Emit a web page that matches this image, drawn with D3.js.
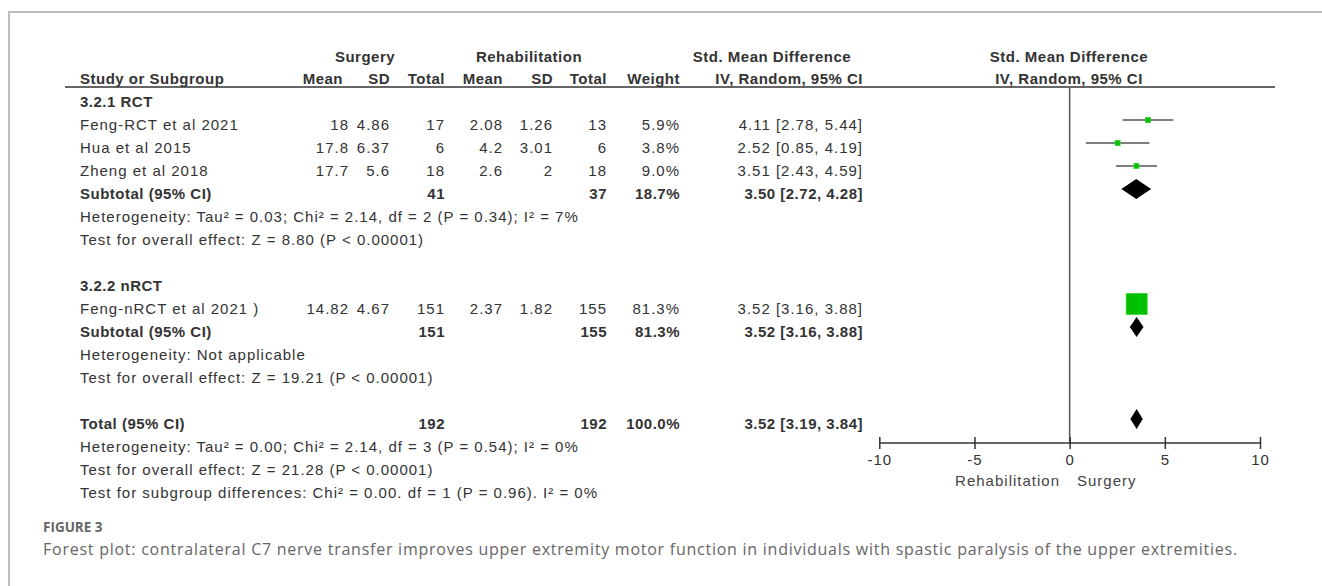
<!DOCTYPE html>
<html>
<head>
<meta charset="utf-8">
<script src="https://cdn.jsdelivr.net/npm/d3@7"></script>
<style>
  html, body { margin: 0; padding: 0; background: #fff; }
</style>
</head>
<body>
<svg id="chart" width="1322" height="586"></svg>
<script>
// ---- Study-level data ----
const studyNames  = ["Feng-RCT et al 2021", "Hua et al 2015", "Zheng et al 2018", "Feng-nRCT et al 2021 )"];
const studyGroup  = [0, 0, 0, 1];
const surgMean    = [18, 17.8, 17.7, 14.82];
const surgSD      = [4.86, 6.37, 5.6, 4.67];
const surgN       = [17, 6, 18, 151];
const rehabMean   = [2.08, 4.2, 2.6, 2.37];
const rehabSD     = [1.26, 3.01, 2, 1.82];
const rehabN      = [13, 6, 18, 155];
const weights     = [5.9, 3.8, 9.0, 81.3];
const smd         = [4.11, 2.52, 3.51, 3.52];
const smdLow      = [2.78, 0.85, 2.43, 3.16];
const smdHigh     = [5.44, 4.19, 4.59, 3.88];

// ---- Subgroup summaries ----
const subgroups     = ["3.2.1 RCT", "3.2.2 nRCT"];
const subSurgN      = [41, 151];
const subRehabN     = [37, 155];
const subWeight     = [18.7, 81.3];
const subSmd        = [3.50, 3.52];
const subLow        = [2.72, 3.16];
const subHigh       = [4.28, 3.88];
const subHetText    = ["Heterogeneity: Tau\u00b2 = 0.03; Chi\u00b2 = 2.14, df = 2 (P = 0.34); I\u00b2 = 7%",
                       "Heterogeneity: Not applicable"];
const subEffectText = ["Test for overall effect: Z = 8.80 (P < 0.00001)",
                       "Test for overall effect: Z = 19.21 (P < 0.00001)"];

// ---- Overall summary ----
const totalSurgN  = 192;
const totalRehabN = 192;
const totalWeight = 100.0;
const totalSmd    = 3.52;
const totalLow    = 3.19;
const totalHigh   = 3.84;
const totalNotes  = ["Heterogeneity: Tau\u00b2 = 0.00; Chi\u00b2 = 2.14, df = 3 (P = 0.54); I\u00b2 = 0%",
                     "Test for overall effect: Z = 21.28 (P < 0.00001)",
                     "Test for subgroup differences: Chi\u00b2 = 0.00. df = 1 (P = 0.96). I\u00b2 = 0%"];

// ---- Axis ----
const axisTicks   = [-10, -5, 0, 5, 10];
const axisLabels  = ["Rehabilitation", "Surgery"];

const figureLabel = "FIGURE 3";
const captionText = "Forest plot: contralateral C7 nerve transfer improves upper extremity motor function in individuals with spastic paralysis of the upper extremities.";

// ---- Layout ----
const svg = d3.select("#chart");
const ink = "#333";
const FS = 15;
const tableFont = "'Liberation Sans', Arial, sans-serif";
const captionFont = "'Open Sans', 'Noto Sans', sans-serif";
const rowH = 23;
const firstBase = 107;             // baseline of the first table row
const base = i => firstBase + i * rowH;
const markOff = 10;                // marks sit slightly above the text baseline

const col = {
  name: 80, sMean: 349, sSD: 390, sN: 445,
  rMean: 503, rSD: 553, rN: 607, weight: 680, ci: 863
};

const x = d3.scaleLinear().domain([-10, 10]).range([879.3, 1260]);
const boxSize = d3.scaleLinear().domain([0, 81.3]).range([0, 21]);

// frame
svg.append("path")
  .attr("d", "M9,586 L9,12 L1322,12")
  .attr("fill", "none").attr("stroke", "#bdbdbd").attr("stroke-width", 2);

function txt(xp, y, s, opts = {}) {
  return svg.append("text")
    .attr("x", xp).attr("y", y)
    .style("font-family", opts.font || tableFont)
    .style("font-size", (opts.size || FS) + "px")
    .style("font-weight", opts.bold ? "bold" : "normal")
    .style("letter-spacing", (opts.ls !== undefined ? opts.ls : (opts.bold ? 0.5 : 1)) + "px")
    .attr("text-anchor", opts.anchor || "start")
    .attr("fill", opts.fill || ink)
    .text(s);
}
const ci = (m, l, h) => `${m.toFixed(2)} [${l.toFixed(2)}, ${h.toFixed(2)}]`;

// headers
const h1 = 62, h2 = 84;
txt(365, h1, "Surgery", {bold: true, anchor: "middle"});
txt(529, h1, "Rehabilitation", {bold: true, anchor: "middle"});
txt(772, h1, "Std. Mean Difference", {bold: true, anchor: "middle"});
txt(1069, h1, "Std. Mean Difference", {bold: true, anchor: "middle"});
txt(col.name, h2, "Study or Subgroup", {bold: true});
txt(343, h2, "Mean", {bold: true, anchor: "end"});
txt(col.sSD, h2, "SD", {bold: true, anchor: "end"});
txt(col.sN, h2, "Total", {bold: true, anchor: "end"});
txt(col.rMean, h2, "Mean", {bold: true, anchor: "end"});
txt(col.rSD, h2, "SD", {bold: true, anchor: "end"});
txt(col.rN, h2, "Total", {bold: true, anchor: "end"});
txt(col.weight, h2, "Weight", {bold: true, anchor: "end"});
txt(col.ci, h2, "IV, Random, 95% CI", {bold: true, anchor: "end"});
txt(1069, h2, "IV, Random, 95% CI", {bold: true, anchor: "middle"});

svg.append("line")
  .attr("x1", 65).attr("x2", 1275).attr("y1", 87).attr("y2", 87)
  .attr("stroke", ink).attr("stroke-width", 1.5);

// zero line
svg.append("line")
  .attr("x1", x(0)).attr("x2", x(0)).attr("y1", 87).attr("y2", 443)
  .attr("stroke", "#555").attr("stroke-width", 1.5);

function diamond(cy, m, l, h) {
  const hh = 10;
  svg.append("path")
    .attr("d", `M${x(l)},${cy} L${x(m)},${cy - hh} L${x(h)},${cy} L${x(m)},${cy + hh} Z`)
    .attr("fill", "#000");
}

// rows
let row = 0;
subgroups.forEach((g, gi) => {
  txt(col.name, base(row), g, {bold: true});
  row++;
  studyNames.forEach((name, i) => {
    if (studyGroup[i] !== gi) return;
    const y = base(row);
    txt(col.name, y, name);
    txt(col.sMean, y, String(surgMean[i]), {anchor: "end"});
    txt(col.sSD, y, String(surgSD[i]), {anchor: "end"});
    txt(col.sN, y, String(surgN[i]), {anchor: "end"});
    txt(col.rMean, y, String(rehabMean[i]), {anchor: "end"});
    txt(col.rSD, y, String(rehabSD[i]), {anchor: "end"});
    txt(col.rN, y, String(rehabN[i]), {anchor: "end"});
    txt(col.weight, y, weights[i].toFixed(1) + "%", {anchor: "end"});
    txt(col.ci, y, ci(smd[i], smdLow[i], smdHigh[i]), {anchor: "end"});
    const cy = y - markOff;
    svg.append("line")
      .attr("x1", x(smdLow[i])).attr("x2", x(smdHigh[i]))
      .attr("y1", cy).attr("y2", cy)
      .attr("stroke", "#555").attr("stroke-width", 1.5);
    const s = Math.max(5, boxSize(weights[i]));
    svg.append("rect")
      .attr("x", x(smd[i]) - s / 2).attr("y", cy - s / 2)
      .attr("width", s).attr("height", s)
      .attr("fill", "#00c000").attr("stroke", "#33d633").attr("stroke-width", 0.8);
    row++;
  });
  const ys = base(row);
  txt(col.name, ys, "Subtotal (95% CI)", {bold: true});
  txt(col.sN, ys, String(subSurgN[gi]), {bold: true, anchor: "end"});
  txt(col.rN, ys, String(subRehabN[gi]), {bold: true, anchor: "end"});
  txt(col.weight, ys, subWeight[gi].toFixed(1) + "%", {bold: true, anchor: "end"});
  txt(col.ci, ys, ci(subSmd[gi], subLow[gi], subHigh[gi]), {bold: true, anchor: "end"});
  diamond(ys - markOff, subSmd[gi], subLow[gi], subHigh[gi]);
  row++;
  txt(col.name, base(row), subHetText[gi]); row++;
  txt(col.name, base(row), subEffectText[gi]); row++;
  row++; // blank spacer
});

const yt = base(row);
txt(col.name, yt, "Total (95% CI)", {bold: true});
txt(col.sN, yt, String(totalSurgN), {bold: true, anchor: "end"});
txt(col.rN, yt, String(totalRehabN), {bold: true, anchor: "end"});
txt(col.weight, yt, totalWeight.toFixed(1) + "%", {bold: true, anchor: "end"});
txt(col.ci, yt, ci(totalSmd, totalLow, totalHigh), {bold: true, anchor: "end"});
diamond(yt - markOff, totalSmd, totalLow, totalHigh);
row++;
totalNotes.forEach(n => { txt(col.name, base(row), n); row++; });

// axis
const axisY = 443;
const ax = svg.append("g")
  .attr("transform", `translate(0,${axisY})`)
  .call(d3.axisBottom(x).tickValues(axisTicks).tickSize(6).tickFormat(d => String(d)));
ax.select(".domain").attr("d", `M${x(-10)},0H${x(10)}`).attr("stroke", ink).attr("stroke-width", 1.5);
ax.selectAll(".tick line").attr("y1", -6).attr("y2", 6).attr("stroke", ink).attr("stroke-width", 1.5);
ax.selectAll(".tick text")
  .attr("y", 22).attr("dy", 0)
  .style("font-size", FS + "px").style("letter-spacing", "1px")
  .style("font-family", tableFont)
  .attr("fill", ink);
txt(1060, 486, axisLabels[0], {anchor: "end", fill: "#444"});
txt(1077, 486, axisLabels[1], {fill: "#444"});

// caption
txt(43, 532, figureLabel, {size: 13.5, bold: true, ls: 0, fill: "#666", font: captionFont});
txt(43, 555, captionText, {size: 16, ls: 0.75, fill: "#666", font: captionFont});
</script>
</body>
</html>
